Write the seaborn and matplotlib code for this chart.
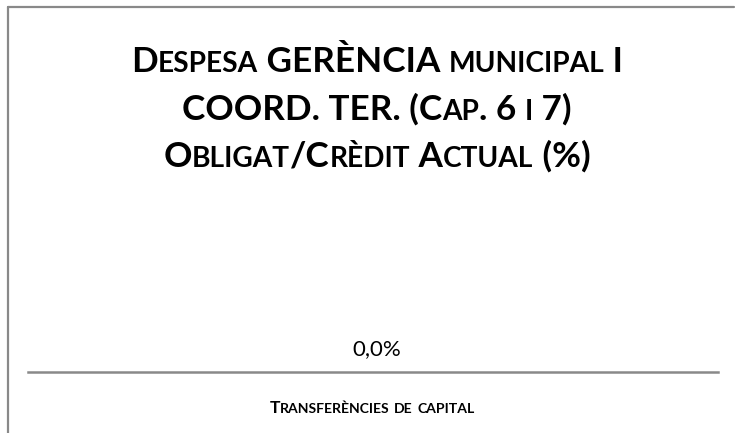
import matplotlib
matplotlib.use('Agg')
import matplotlib.pyplot as plt
from matplotlib.transforms import IdentityTransform
from matplotlib.lines import Line2D
import seaborn as sns
import pandas as pd

categories = ['Transferències de capital']
values = [0.0]
title_lines = ['Despesa GERÈNCIA municipal I',
               'COORD. TER. (Cap. 6 i 7)',
               'Obligat/Crèdit Actual (%)']

sns.set_theme(style='white')
plt.rcParams['font.family'] = ['Lato', 'DejaVu Sans']

W, H = 735, 433
fig = plt.figure(figsize=(W / 100, H / 100), dpi=100)
fig.patch.set_facecolor('white')

ax = fig.add_axes([28 / W, (H - 372) / H, 690 / W, 170 / H])
df = pd.DataFrame({'cat': categories, 'val': values})
sns.barplot(data=df, x='cat', y='val', ax=ax, color='#4472C4', width=0.6)
ax.set_ylim(0, 1)
ax.set_xlim(-0.5, 0.5)
for s in ['top', 'left', 'right']:
    ax.spines[s].set_visible(False)
ax.spines['bottom'].set_color('#898989')
ax.spines['bottom'].set_linewidth(1.8)
ax.set_yticks([])
ax.set_xticks([])
ax.set_xlabel('')
ax.set_ylabel('')
ax.patch.set_alpha(0)

labels = [f"{v:.1f}%".replace('.', ',') for v in values]
anns = ax.bar_label(ax.containers[0], labels=labels, padding=9, fontsize=16,
                    color='black')
for a in anns:
    a.xyann = (3, 9)

renderer = fig.canvas.get_renderer()


def smallcaps(text, xc, y_top_base, size, ratio=0.8):
    runs = []
    for ch in text:
        small = ch.islower()
        c = ch.upper() if small else ch
        if runs and runs[-1][1] == small:
            runs[-1][0] += c
        else:
            runs.append([c, small])
    y = H - y_top_base
    texts = []
    x = 0.0
    for s, small in runs:
        t = fig.text(x, y, s, fontsize=size * ratio if small else size,
                     fontweight='bold', ha='left', va='baseline',
                     color='black', transform=IdentityTransform())
        w = t.get_window_extent(renderer).width
        texts.append((t, x))
        x += w
    x0 = xc - x / 2
    for t, xo in texts:
        t.set_x(x0 + xo)


for line, base in zip(title_lines, [72, 120, 167]):
    smallcaps(line, 377, base, 25.3)

smallcaps(categories[0], 372, 413, 12.6)

# frame lines
fig.add_artist(Line2D([8, 8], [0, H - 7], color='#898989', lw=1.6,
                      transform=IdentityTransform()))
fig.add_artist(Line2D([8, 734], [H - 7, H - 7], color='#898989', lw=1.6,
                      transform=IdentityTransform()))

fig.savefig('out.png', dpi=100)
